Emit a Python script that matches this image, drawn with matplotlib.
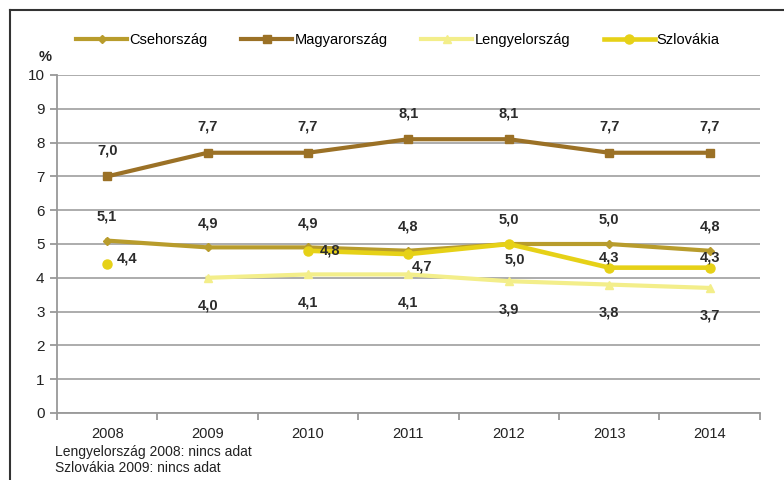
import matplotlib.pyplot as plt
from matplotlib.lines import Line2D
import numpy as np

plt.rcParams['font.family'] = ['Liberation Sans', 'DejaVu Sans']

years = ['2008', '2009', '2010', '2011', '2012', '2013', '2014']
cseh = [5.1, 4.9, 4.9, 4.8, 5.0, 5.0, 4.8]
magyar = [7.0, 7.7, 7.7, 8.1, 8.1, 7.7, 7.7]
lengyel = [np.nan, 4.0, 4.1, 4.1, 3.9, 3.8, 3.7]
szlovakia = [4.4, np.nan, 4.8, 4.7, 5.0, 4.3, 4.3]

notes = ['Lengyelország 2008: nincs adat', 'Szlovákia 2009: nincs adat']

# label offsets in pixels (dx, dy), per point
cseh_off = [(0, 24)] * 7
magyar_off = [(0, 26)] * 7
lengyel_off = [(0, -28)] * 7
szlo_off = [(20, 6), None, (22, 0), (14, -12), (6, -16), (0, 10), (0, 10)]

fig = plt.figure(figsize=(7.84, 4.8), dpi=100)
ax = fig.add_axes([0.0727, 0.1396, 0.969 - 0.0727, 0.84375 - 0.1396])

x = np.arange(len(years))
c_cseh = '#B89C2C'
c_magyar = '#9B7126'
c_lengyel = '#F3EE8A'
c_szlo = '#E6D117'

ax.plot(x, magyar, color=c_magyar, lw=3, marker='s', ms=6, label='Magyarország', zorder=3)
ax.plot(x, lengyel, color=c_lengyel, lw=3, marker='^', ms=5.5, label='Lengyelország', zorder=3)
ax.plot(x, szlovakia, color=c_szlo, lw=3.3, marker='o', ms=6.5, label='Szlovákia', zorder=4)
ax.plot(x, cseh, color=c_cseh, lw=3, marker='D', ms=4, label='Csehország', zorder=3)


def labels(vals, offs):
    for i, v in enumerate(vals):
        if np.isnan(v) or offs[i] is None:
            continue
        dx, dy = offs[i]
        ax.annotate(f'{v:.1f}'.replace('.', ','), (i, v),
                    xytext=(dx * 0.72, dy * 0.72), textcoords='offset points',
                    ha='center', va='center', fontsize=10.5, fontweight='bold',
                    color='#2b2b2b', zorder=5)


labels(cseh, cseh_off)
labels(magyar, magyar_off)
labels(lengyel, lengyel_off)
labels(szlovakia, szlo_off)

ax.set_xlim(-0.5, 6.5)
ax.set_ylim(0, 10)
ax.set_yticks(range(0, 11))
ax.set_xticks(x)
ax.set_xticklabels(years)
ax.set_xticks(np.arange(-0.5, 7, 1), minor=True)
ax.tick_params(axis='x', which='major', length=0, pad=10, labelsize=10.5, colors='#222222')
ax.tick_params(axis='x', which='minor', length=5, color='#999999', width=1.3)
ax.tick_params(axis='y', length=5, color='#999999', width=1.3, labelsize=11,
               labelcolor='#222222', pad=4)
ax.yaxis.grid(True, color='#a6a6a6', lw=1.3)
ax.set_axisbelow(True)
for s in ['top', 'right']:
    ax.spines[s].set_visible(False)
for s in ['left', 'bottom']:
    ax.spines[s].set_color('#999999')
    ax.spines[s].set_linewidth(1.3)

fig.text(45 / 784, 1 - 57 / 480, '%', fontsize=10.5, fontweight='bold',
         ha='center', va='center', color='#222222')

fig.text(55 / 784, 1 - 452 / 480, notes[0], fontsize=10, va='center', color='#222222')
fig.text(55 / 784, 1 - 468 / 480, notes[1], fontsize=10, va='center', color='#222222')

h, l = ax.get_legend_handles_labels()
order = [3, 0, 1, 2]
fig.legend([h[i] for i in order], [l[i] for i in order], ncol=4,
           loc='center', bbox_to_anchor=(398 / 784, 1 - 40 / 480), frameon=False,
           handlelength=3.5, columnspacing=2.3, handletextpad=0.15, fontsize=10.5)

# outer frame (top and left edges)
fig.add_artist(Line2D([10 / 784, 1], [1 - 10 / 480, 1 - 10 / 480], color='#333333', lw=1.5))
fig.add_artist(Line2D([10 / 784, 10 / 784], [0, 1 - 10 / 480], color='#333333', lw=1.5))

fig.savefig('out.png', dpi=100)
